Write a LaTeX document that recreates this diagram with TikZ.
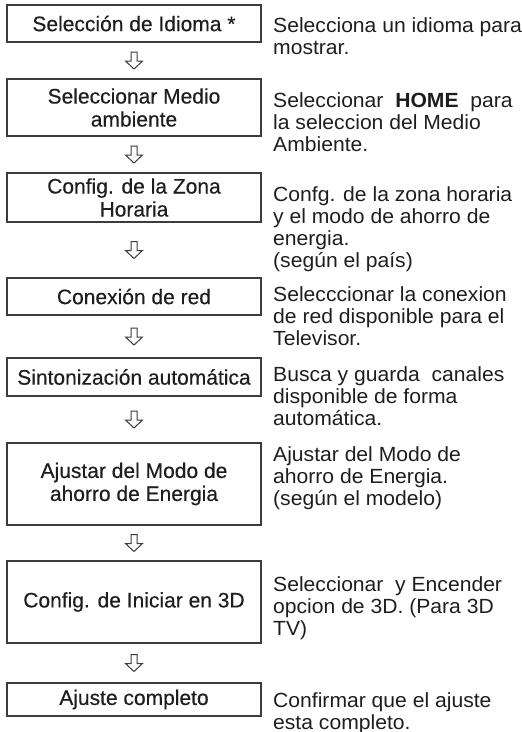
\documentclass[tikz,border=0pt]{standalone}
\usepackage{fontspec}
\setmainfont{Liberation Sans}
\newfontfamily\descfont{Liberation Sans}[FakeStretch=1.03]
\newfontfamily\boxfont{Liberation Sans}[FakeBold=0.35]
\usepackage{tikz}
\definecolor{inkgray}{RGB}{30,30,30}
\definecolor{framegray}{RGB}{60,60,60}

\begin{document}
\begin{tikzpicture}[
  x=1pt, y=-1pt,
  every node/.style={text=inkgray},
  stepbox/.style={draw=framegray, line width=1.4pt, minimum width=254pt, inner sep=0pt,
                  align=center, font=\boxfont\fontsize{21}{23}\selectfont},
  desc/.style={anchor=north west, inner sep=0pt, align=left, font=\descfont\fontsize{20.5}{22}\selectfont},
  hollowarr/.style={draw=framegray, line width=1pt, fill=white, line join=miter}
]
\useasboundingbox (0,0) rectangle (522,732);
% steps
\node[stepbox, minimum height=37pt] (sel)    at (134,23.5)  {Selección de Idioma *};
\node[stepbox, minimum height=57pt] (medio)  at (134,107.5) {Seleccionar Medio\\ambiente};
\node[stepbox, minimum height=49pt] (zona)   at (134,197.5) {Config. de la Zona\\Horaria};
\node[stepbox, minimum height=37pt] (red)    at (134,296.5) {Conexión de red};
\node[stepbox, minimum height=38pt] (sinto)  at (134,377)   {Sintonización automática};
\node[stepbox, minimum height=82pt] (ahorro) at (134,484)   {Ajustar del Modo de\\ahorro de Energia};
\node[stepbox, minimum height=82pt] (tresd)  at (134,602)   {Config. de Iniciar en 3D};
\node[stepbox, minimum height=33pt] (fin)    at (134,699.5) {Ajuste completo};
% hollow arrows between steps
\foreach \a/\b in {sel/medio, medio/zona, zona/red, red/sinto, sinto/ahorro, ahorro/tresd, tresd/fin}{
  \path (\a.south) -- (\b.north) coordinate[midway] (m-\a);
  \draw[hollowarr] (m-\a) ++(-3,-8.5) -- ++(6,0) -- ++(0,9) -- ++(5.5,0) -- ++(-8.5,8)
    -- ++(-8.5,-8) -- ++(5.5,0) -- cycle;
}
% descriptions
\node[desc] (dsel)    at (273,17)  {Selecciona un idioma para\\mostrar.};
\node[desc] (dmedio)  at (273,92)  {Seleccionar \ \textbf{HOME} \ para\\la seleccion del Medio\\Ambiente.};
\node[desc] (dzona)   at (273,186) {Confg. de la zona horaria\\y el modo de ahorro de\\energia.\\(según el país)};
\node[desc] (dred)    at (273,286) {Selecccionar la conexion\\de red disponible para el\\Televisor.};
\node[desc] (dsinto)  at (273,366) {Busca y guarda \ canales\\disponible de forma\\automática.};
\node[desc] (dahorro) at (273,446) {Ajustar del Modo de\\ahorro de Energia.\\(según el modelo)};
\node[desc] (dtresd)  at (273,576) {Seleccionar \ y Encender\\opcion de 3D. (Para 3D\\TV)};
\node[desc] (dfin)    at (273,692) {Confirmar que el ajuste\\esta completo.};
\end{tikzpicture}
\end{document}
